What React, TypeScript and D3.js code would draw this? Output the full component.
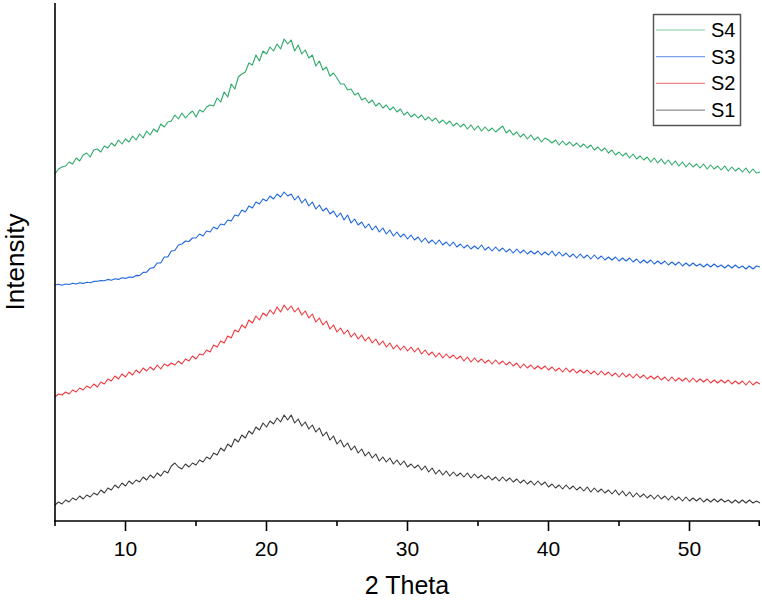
import React from "react";
import * as d3 from "d3";

// 2θ sampling grid of the scans
const THETA_START = 5;
const THETA_STEP = 0.25;

// Intensity values (arbitrary units, offset stacked)
const S1 = [
  16,19,17,21,19,23,21,25,22,26,24,28,26,31,28,33,31,36,33,38,
  35,40,37,41,39,44,41,46,43,48,45,50,48,55,58,54,52,57,54,58,
  56,61,59,64,62,68,66,73,70,77,74,82,79,86,83,90,87,94,91,98,
  94,100,97,103,99,106,101,106,98,102,95,99,92,96,89,93,85,89,81,85,
  77,81,74,78,71,75,68,72,65,69,63,67,60,64,59,63,57,61,56,60,
  54,57,53,56,51,55,49,53,47,51,46,50,45,49,45,48,44,48,43,47,
  43,46,42,45,41,44,40,44,40,43,39,42,38,41,37,40,36,40,36,39,
  34,37,33,36,32,36,32,35,31,34,30,34,29,33,29,32,28,31,27,31,
  26,30,25,29,24,28,24,27,23,26,22,26,22,25,21,25,21,24,20,24,
  20,23,20,23,19,22,19,22,19,22,19,21,18,21,18,21,18,21,18,20,
  18,
];
const S2 = [
  124,127,126,129,127,131,129,133,131,135,133,137,134,139,137,142,140,145,142,147,
  144,149,146,151,148,153,150,154,151,156,152,157,155,158,156,160,157,162,160,165,
  162,167,166,171,169,176,174,180,178,185,183,191,189,196,193,201,198,205,201,208,
  205,211,207,214,209,216,211,215,209,213,206,210,203,207,199,203,196,200,192,196,
  189,193,187,191,184,188,182,186,180,184,178,182,176,180,174,178,172,176,171,175,
  170,174,169,173,167,171,166,169,164,168,163,167,163,166,162,165,160,164,159,163,
  159,162,158,161,157,161,157,160,156,159,155,158,153,157,153,156,152,155,152,155,
  151,154,150,153,149,153,149,152,148,151,148,151,147,150,146,150,146,149,145,148,
  144,148,144,147,143,147,143,146,142,145,142,145,141,144,140,144,140,143,140,143,
  139,143,139,142,139,142,138,141,138,141,138,141,137,140,137,140,136,140,136,139,
  137,
];
const S3 = [
  236,236.8,235.8,237,236.5,237.8,237,238.2,237.6,238.8,238.2,239.6,239.8,240.4,240.2,241.6,240.8,242.2,241.6,243.2,
  242.6,244,243.6,245.6,245.4,248.6,248.8,252.8,253.4,258,258,264,264,270,270.5,276,277,280,279.5,283,
  283,287,285,290,289,294,292,297,296,301,300,306,305,311,309,315,313,319,317,322,
  320,325,322,327,324,329,325,327,321,325,318,322,315,319,312,316,310,313,307,310,
  304,308,301,306,298,302,296,299,293,297,291,295,289,293,287,291,285,289,284,287,
  282,286,281,284,279,283,278,281,277,281,276,279,275,279,274,277,273,276,272,275,
  272,276,271,274,270,274,270,273,269,272,268,272,268,271,267,270,267,270,266,269,
  266,270,265,269,265,268,264,267,263,267,263,266,262,266,262,265,261,264,261,264,
  260,263,260,263,259,262,258,261,258,261,257,260,257,260,256,259,256,259,255,258,
  255,258,255,257,254,257,254,257,254,256,253,256,253,256,253,255,252,255,252,255,
  254,
];
const S4 = [
  347,352,354,355,359,357,363,360,366,368,364,371,372,369,375,373,378,375,381,377,
  382,379,385,381,387,383,390,386,392,389,397,394,399,400,406,402,408,403,407,410,
  404,411,409,414,416,415,423,419,429,424,437,432,444,447,449,458,456,466,460,470,
  467,474,470,477,472,482,477,481,470,476,467,471,463,466,455,460,451,454,445,448,
  443,437,437,431,432,426,428,421,423,418,421,415,418,413,416,411,414,409,412,406,
  409,404,407,403,406,401,404,400,403,398,401,397,400,395,398,394,397,392,396,391,
  395,390,394,390,393,389,392,395,388,391,386,389,384,387,382,386,381,384,379,383,
  381,378,381,376,380,376,379,375,378,374,377,373,376,371,374,370,373,368,371,366,
  369,365,368,363,367,362,365,361,364,359,363,358,362,357,361,356,360,355,359,354,
  358,354,357,353,357,352,356,352,355,351,355,350,354,350,353,349,353,348,352,348,
  349,
];

const SERIES_NAMES = ["S1", "S2", "S3", "S4"];
const SERIES_COLORS = ["#3c3c3c", "#f0383e", "#1f66e0", "#2eaa6a"];
const X_MAJOR_TICKS = [10, 20, 30, 40, 50];
const X_MINOR_TICKS = [5, 15, 25, 35, 45, 55];
const X_TITLE = "2 Theta";
const Y_TITLE = "Intensity";

export default function App() {
  const W = 762;
  const H = 600;
  const x = d3.scaleLinear().domain([5, 55]).range([55, 760]);
  const y = d3.scaleLinear().domain([0, 520]).range([521, 1]);
  const data = [S1, S2, S3, S4];
  const line = d3
    .line<number>()
    .x((_, i) => x(THETA_START + i * THETA_STEP))
    .y((d) => y(d));

  const axisY = y(0);
  const legendOrder = [3, 2, 1, 0];

  return (
    <svg
      width={W}
      height={H}
      style={{ position: "absolute", left: 0, top: 0, background: "#fff" }}
      fontFamily="'Liberation Sans', Arial, sans-serif"
    >
      <rect x={0} y={0} width={W} height={H} fill="#fff" />
      {data.map((s, k) => (
        <path
          key={k}
          d={line(s) || ""}
          fill="none"
          stroke={SERIES_COLORS[k]}
          strokeWidth={1.1}
          strokeLinejoin="round"
        />
      ))}

      {/* axes */}
      <line x1={55} x2={55} y1={3} y2={axisY + 0.8} stroke="#000" strokeWidth={1.6} />
      <line x1={54.2} x2={760} y1={axisY} y2={axisY} stroke="#000" strokeWidth={1.6} />
      {X_MAJOR_TICKS.map((t) => (
        <g key={"M" + t}>
          <line x1={x(t)} x2={x(t)} y1={axisY} y2={axisY + 10} stroke="#000" strokeWidth={1.6} />
          <text x={x(t)} y={axisY + 35} textAnchor="middle" fontSize={21} fill="#000">
            {t}
          </text>
        </g>
      ))}
      {X_MINOR_TICKS.map((t) => (
        <line key={"m" + t} x1={Math.min(x(t), 759.2)} x2={Math.min(x(t), 759.2)} y1={axisY} y2={axisY + 5} stroke="#000" strokeWidth={1.6} />
      ))}

      <text x={407} y={594} textAnchor="middle" fontSize={25} fill="#000">
        {X_TITLE}
      </text>
      <text
        transform={`translate(24,262) rotate(-90)`}
        textAnchor="middle"
        fontSize={26}
        fill="#000"
      >
        {Y_TITLE}
      </text>

      {/* legend */}
      <rect x={653.5} y={14.5} width={87} height={111} fill="#fff" stroke="#555" strokeWidth={1.5} />
      {legendOrder.map((k, i) => {
        const ly = 30 + i * 26.7;
        return (
          <g key={"l" + k}>
            <line x1={656} x2={705} y1={ly} y2={ly} stroke={SERIES_COLORS[k]} strokeWidth={1.2} opacity={0.6} />
            <text x={711} y={ly + 7} fontSize={20} fill="#000">
              {SERIES_NAMES[k]}
            </text>
          </g>
        );
      })}
    </svg>
  );
}
